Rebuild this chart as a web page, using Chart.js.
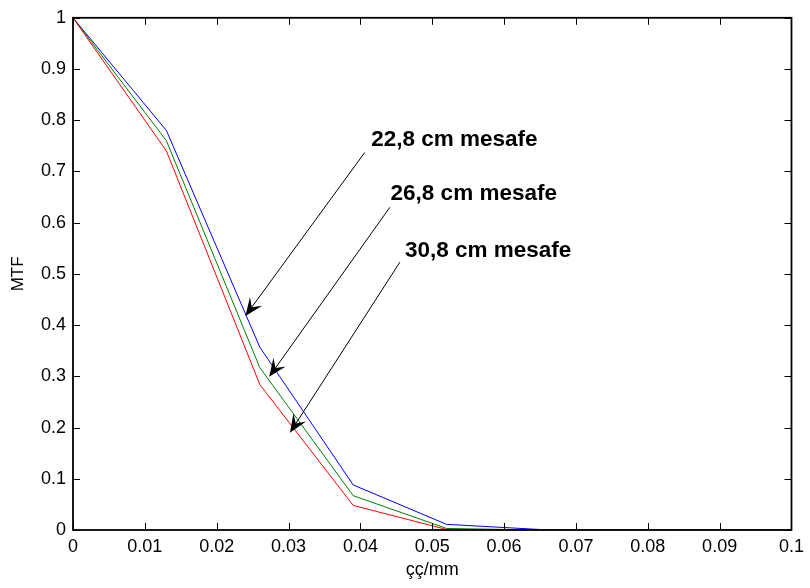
<!DOCTYPE html>
<html>
<head>
<meta charset="utf-8">
<script src="https://cdn.jsdelivr.net/npm/chart.js@4/dist/chart.umd.min.js"></script>
<style>
  html, body { margin: 0; padding: 0; background: #ffffff; }
  #wrap { width: 810px; height: 588px; }
</style>
</head>
<body>
<div id="wrap"><canvas id="mtf" width="810" height="588"></canvas></div>
<script>
// Spatial frequency (cycles/mm) and MTF values for each source distance
const frequency = [0, 0.013, 0.026, 0.039, 0.052, 0.065, 0.078, 0.091, 0.104];
const mtf228 = [1, 0.780, 0.357, 0.088, 0.011, 0.001, 0, 0, 0];
const mtf268 = [1, 0.760, 0.317, 0.067, 0.003, 0, 0, 0, 0];
const mtf308 = [1, 0.740, 0.284, 0.048, 0.001, 0, 0, 0, 0];

const xTicks = [0, 0.01, 0.02, 0.03, 0.04, 0.05, 0.06, 0.07, 0.08, 0.09, 0.1];
const yTicks = [0, 0.1, 0.2, 0.3, 0.4, 0.5, 0.6, 0.7, 0.8, 0.9, 1];

// Callouts: label text, label anchor and arrow tail/tip, all in data units
const calloutText = ['22,8 cm mesafe', '26,8 cm mesafe', '30,8 cm mesafe'];
const calloutLabel = [[0.0415, 0.762], [0.0442, 0.656], [0.0462, 0.546]];
const calloutTail = [[0.0406, 0.737], [0.0441, 0.630], [0.0455, 0.523]];
const calloutTip = [[0.0240, 0.418], [0.0273, 0.299], [0.0302, 0.190]];

const FONT = '"Liberation Sans", Arial, Helvetica, sans-serif';

function pts(ys) {
  return frequency.map((x, i) => ({ x: x, y: ys[i] }));
}

// Box frame, inward ticks on all four sides and arrow callouts
const matlabAxes = {
  id: 'matlabAxes',
  afterDraw(chart) {
    const { ctx, chartArea: a, scales: { x, y } } = chart;
    const tl = 7;
    ctx.save();
    ctx.strokeStyle = '#000';
    ctx.lineWidth = 1;
    ctx.beginPath();
    xTicks.forEach(v => {
      const px = Math.round(x.getPixelForValue(v)) + 0.5;
      ctx.moveTo(px, a.bottom); ctx.lineTo(px, a.bottom - tl);
      ctx.moveTo(px, a.top); ctx.lineTo(px, a.top + tl);
    });
    yTicks.forEach(v => {
      const py = Math.round(y.getPixelForValue(v)) + 0.5;
      ctx.moveTo(a.left, py); ctx.lineTo(a.left + tl, py);
      ctx.moveTo(a.right, py); ctx.lineTo(a.right - tl, py);
    });
    ctx.stroke();
    ctx.lineWidth = 1.8;
    ctx.strokeRect(a.left, a.top, a.right - a.left, a.bottom - a.top);

    // callout arrows
    ctx.lineWidth = 1;
    ctx.fillStyle = '#000';
    for (let i = 0; i < calloutText.length; i++) {
      const x0 = x.getPixelForValue(calloutTail[i][0]);
      const y0 = y.getPixelForValue(calloutTail[i][1]);
      const x1 = x.getPixelForValue(calloutTip[i][0]);
      const y1 = y.getPixelForValue(calloutTip[i][1]);
      const dx = x1 - x0, dy = y1 - y0;
      const len = Math.hypot(dx, dy);
      const ux = dx / len, uy = dy / len;
      const px = -uy, py = ux;
      const L = 18, W = 15, notch = 0.6;
      ctx.beginPath();
      ctx.moveTo(x0, y0);
      ctx.lineTo(x1 - ux * L * notch, y1 - uy * L * notch);
      ctx.stroke();
      ctx.beginPath();
      ctx.moveTo(x1, y1);
      ctx.lineTo(x1 - ux * L + px * W / 2, y1 - uy * L + py * W / 2);
      ctx.lineTo(x1 - ux * L * notch, y1 - uy * L * notch);
      ctx.lineTo(x1 - ux * L - px * W / 2, y1 - uy * L - py * W / 2);
      ctx.closePath();
      ctx.fill();

      ctx.font = 'bold 22.5px ' + FONT;
      ctx.textAlign = 'left';
      ctx.textBaseline = 'middle';
      ctx.fillText(calloutText[i],
        x.getPixelForValue(calloutLabel[i][0]),
        y.getPixelForValue(calloutLabel[i][1]));
    }
    ctx.restore();
  }
};

const whiteBg = {
  id: 'whiteBg',
  beforeDraw(chart) {
    const ctx = chart.ctx;
    ctx.save();
    ctx.fillStyle = '#fff';
    ctx.fillRect(0, 0, chart.width, chart.height);
    ctx.restore();
  }
};

new Chart(document.getElementById('mtf'), {
  type: 'line',
  data: {
    datasets: [
      { label: '22,8 cm mesafe', data: pts(mtf228), borderColor: '#0000ff', order: 2 },
      { label: '26,8 cm mesafe', data: pts(mtf268), borderColor: '#008000', order: 1 },
      { label: '30,8 cm mesafe', data: pts(mtf308), borderColor: '#ff0000', order: 0 }
    ]
  },
  options: {
    responsive: false,
    animation: false,
    devicePixelRatio: 1,
    layout: { padding: { top: 10, right: 12, left: 0, bottom: 0 } },
    elements: {
      line: { borderWidth: 1, tension: 0, fill: false },
      point: { radius: 0, hoverRadius: 0 }
    },
    plugins: {
      legend: { display: false },
      tooltip: { enabled: false }
    },
    scales: {
      x: {
        type: 'linear',
        min: 0,
        max: 0.1,
        afterFit(s) { s.height = 58; },
        afterBuildTicks(s) { s.ticks = xTicks.map(v => ({ value: v })); },
        grid: { display: false, drawTicks: false },
        border: { display: false },
        ticks: {
          padding: 6,
          maxRotation: 0,
          autoSkip: false,
          color: '#000',
          font: { family: FONT, size: 18 },
          callback: v => String(Number(v.toFixed(2)))
        },
        title: {
          display: true,
          text: 'çç/mm',
          color: '#000',
          font: { family: FONT, size: 18 },
          padding: { top: 0, bottom: 7 }
        }
      },
      y: {
        type: 'linear',
        min: 0,
        max: 1,
        afterFit(s) { s.width = 73; },
        afterBuildTicks(s) { s.ticks = yTicks.map(v => ({ value: v })); },
        grid: { display: false, drawTicks: false },
        border: { display: false },
        ticks: {
          padding: 7,
          autoSkip: false,
          color: '#000',
          font: { family: FONT, size: 18 },
          callback: v => String(Number(v.toFixed(1)))
        },
        title: {
          display: true,
          text: 'MTF',
          color: '#000',
          font: { family: FONT, size: 17 },
          padding: { top: 8, bottom: 0 }
        }
      }
    }
  },
  plugins: [whiteBg, matlabAxes]
});
</script>
</body>
</html>
